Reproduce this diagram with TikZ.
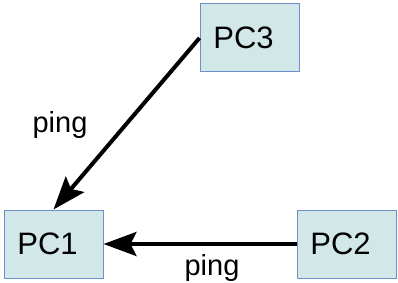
\documentclass[tikz,border=0pt]{standalone}
\usepackage{fontspec}
\setmainfont{Liberation Sans}
\usetikzlibrary{arrows.meta}
\definecolor{boxfill}{HTML}{D2E8E8}
\definecolor{boxdraw}{HTML}{6E8FC8}
\begin{document}
\begin{tikzpicture}[x=1pt,y=-1pt,
  pc/.style={draw=boxdraw,fill=boxfill,line width=1pt,minimum width=99pt,minimum height=68pt,inner sep=0pt,font=\fontsize{31}{32}\selectfont,execute at begin node={\hspace*{-12pt}}},
  conn/.style={line width=4pt,-{Stealth[length=33pt,width=24pt,inset=6pt]}},
  lbl/.style={font=\fontsize{29}{30}\selectfont,inner sep=0pt}]
\useasboundingbox (0,0) rectangle (398,283);
\node[pc] (pc1) at (53.5,244) {PC1};
\node[pc] (pc3) at (249.5,38) {PC3};
\node[pc] (pc2) at (346.5,244) {PC2};
\draw[conn] (pc3.west) -- (pc1.north);
\draw[conn] (pc2.west) -- (pc1.east);
\node[lbl,anchor=base] (l1) at (60,133) {ping};
\node[lbl,anchor=base] (l2) at (212,275) {ping};
\end{tikzpicture}
\end{document}
